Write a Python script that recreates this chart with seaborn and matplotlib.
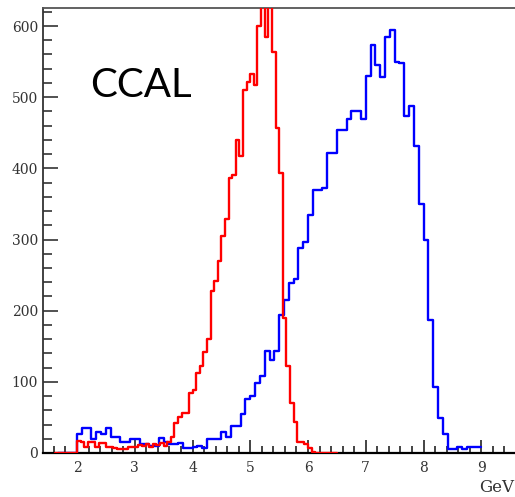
import numpy as np
import pandas as pd
import matplotlib
matplotlib.use("Agg")
import matplotlib.pyplot as plt
import seaborn as sns
from matplotlib.ticker import MultipleLocator

# Binning of the two energy spectra (GeV)
blue_start = 5 / 3
blue_width = 1 / 12
red_start = 1.625
red_width = 1 / 16

# Counts per bin, left to right
blue_counts = [
    0, 0, 0, 0,
    26, 35, 35, 20, 29, 27, 35, 23, 23, 16, 16, 19,
    20, 13, 13, 10, 10, 21, 15, 13, 13, 14, 7, 7,
    9, 10, 7, 19, 19, 19, 29, 23, 38, 38, 55, 76,
    80, 98, 108, 143, 131, 143, 194, 215, 239, 244, 288, 297,
    335, 369, 369, 372, 422, 422, 454, 454, 469, 481, 481, 469,
    530, 574, 545, 529, 585, 594, 550, 548, 474, 488, 431, 350,
    300, 187, 93, 49, 26, 5, 5, 9, 5, 8, 9, 9,
]
red_counts = [
    0, 0, 0, 0, 0, 0,
    17, 16, 9, 15, 15, 8, 14, 14, 8, 9, 7, 6, 6, 6, 8, 8, 9, 11, 10, 12, 8, 12, 11, 14, 10, 16,
    23, 42, 51, 56, 56,
    85, 89, 112, 122, 142, 160,
    228, 241, 270, 305, 329,
    386, 391, 440, 418,
    510, 522, 533, 517,
    600, 660, 585, 645, 563,
    457, 393, 190, 122, 70, 44,
    16, 15, 12, 7, 2,
    0, 0, 0, 0, 0, 0,
]

x_major = [2, 3, 4, 5, 6, 7, 8, 9]
y_major = [0, 100, 200, 300, 400, 500, 600]


def hist_frame(start, width, counts):
    n = len(counts)
    centers = start + width * (np.arange(n) + 0.5)
    return pd.DataFrame({"E": centers, "n": np.asarray(counts, dtype=float)}), (start, start + n * width)


blue_df, blue_range = hist_frame(blue_start, blue_width, blue_counts)
red_df, red_range = hist_frame(red_start, red_width, red_counts)

sns.set_style("ticks")
plt.rcParams["font.family"] = ["DejaVu Serif"]

W, H = 515, 497
fig = plt.figure(figsize=(W / 100, H / 100), dpi=100)
ax = fig.add_axes([43 / W, (H - 453) / H, 473 / W, 445 / H])

# Outlines sit above the axis line so empty bins show along zero
sns.histplot(data=blue_df, x="E", weights="n", binwidth=blue_width, binrange=blue_range,
             element="step", fill=False, color="#0000ff", linewidth=1.7, zorder=3, ax=ax)
sns.histplot(data=red_df, x="E", weights="n", binwidth=red_width, binrange=red_range,
             element="step", fill=False, color="#ff0000", linewidth=1.7, zorder=4, ax=ax)

ax.set_xlim(1.4114, 1.4114 + 473 / 57.76)
ax.set_ylim(0, 625.3)
ax.set_xlabel("")
ax.set_ylabel("")

ax.set_xticks(x_major)
ax.set_yticks(y_major)
ax.xaxis.set_minor_locator(MultipleLocator(0.2))
ax.yaxis.set_minor_locator(MultipleLocator(20))
ax.tick_params(axis="x", which="major", direction="in", length=9.4, width=1.1,
               pad=6, labelsize=10, labelcolor="#333333", color="#111111")
ax.tick_params(axis="x", which="minor", direction="in", length=5, width=1.1, color="#111111")
ax.tick_params(axis="y", which="major", direction="in", length=11, width=1.1,
               pad=3.5, labelsize=10, labelcolor="#333333", color="#222222")
ax.tick_params(axis="y", which="minor", direction="in", length=6.5, width=1.1, color="#222222")

ax.spines["right"].set_visible(False)
ax.spines["left"].set_color("#333333")
ax.spines["left"].set_linewidth(1.3)
ax.spines["top"].set_color("#555555")
ax.spines["top"].set_linewidth(1.3)
ax.spines["bottom"].set_color("#000000")
ax.spines["bottom"].set_linewidth(1.6)

fig.text(90 / W, 1 - 97 / H, "CCAL", family="Lato", fontsize=29,
         ha="left", va="baseline", color="#000000")
fig.text(0.998, 1 - 492 / H, "GeV", family="DejaVu Serif", fontsize=12,
         ha="right", va="baseline", color="#333333")

fig.savefig("out.png", dpi=100)
